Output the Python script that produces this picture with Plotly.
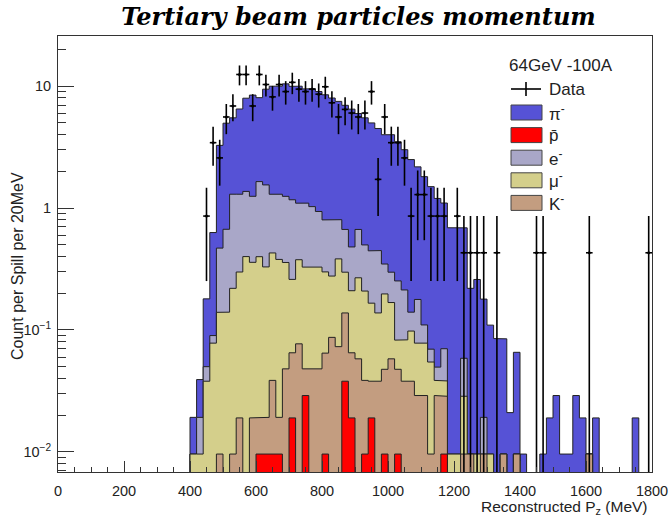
import numpy as np
import plotly.graph_objects as go

# ---------------- data ----------------
bin_width = 20
bin_lo = np.arange(400, 1800, bin_width)          # 70 bins, 400..1780 MeV

# MC components (count per spill per 20 MeV), bins 400..1780
pbar = [0, 0, 0, 0, 0, 0, 0, 0, 0, 0,
        .0096, .0096, .0096, .0096, 0, .019, 0, .029, 0, 0,
        .0096, 0, 0, .038, .019, 0, .0096, .019, 0, .0096,
        0, .0096, 0, 0, 0, 0, 0, 0, .0096, 0,
        0, 0, 0, 0, 0, 0, 0, 0, 0, 0,
        0, 0, 0, 0, 0, 0, 0, 0, 0, 0,
        0, 0, 0, 0, 0, 0, 0, 0, 0, 0]
kaon = [0, 0, 0, 0, .0096, 0, .0096, .019, 0, .019,
        .0096, .0096, .029, .0096, .048, .046, .077, .019, .048, .048,
        .055, .087, .073, .10, .046, .058, .029, .019, .038, .038,
        .058, .038, .038, .038, .029, .029, .0096, .029, .019, 0,
        0, .0096, .0096, 0, .0096, 0, 0, .0096, 0, .0096,
        0, 0, 0, 0, 0, 0, 0, 0, 0, 0,
        .0096, 0, 0, 0, 0, 0, 0, 0, 0, 0]
muon = [.0096, .0096, .038, .078, .13, .14, .21, .28, .40, .34,
        .38, .31, .39, .36, .31, .195, .30, .28, .28, .28,
        .235, .19, .31, .16, .145, .21, .17, .128, .10, .15,
        .11, .035, .045, .06, .049, .049, .045, .0096, .0096, .0096,
        .0096, .019, 0, .0096, 0, .0096, 0, 0, 0, 0,
        0, 0, 0, 0, 0, 0, 0, 0, 0, 0,
        0, 0, 0, 0, 0, 0, 0, 0, 0, 0]
elec = [0, .0096, .012, .012, .33, .53, 1.08, 1.0, .97, .89,
        1.25, 1.22, .87, .92, .89, .91, .72, .77, .70, .61,
        .50, .52, .42, .37, .27, .40, .29, .28, .31, .15,
        .13, .17, .13, .042, .10, .032, .015, .011, .032, 0,
        0, .03, 0, 0, .0096, 0, 0, 0, 0, 0,
        0, 0, 0, 0, 0, 0, 0, 0, 0, 0,
        0, 0, 0, 0, 0, 0, 0, 0, 0, 0]
pion = [.0096, .02, .13, .54, 2.8, 4.3, 4.2, 5.2, 6.6, 7.2,
        6.4, 7.9, 8.7, 8.7, 9.2, 8.8, 8.9, 8.4, 8.5, 8.1,
        7.7, 7.2, 6.7, 6.3, 6.0, 5.3, 5.0, 4.55, 4.05, 3.65,
        3.7, 3.25, 2.8, 2.36, 2.0, 1.7, 1.43, 1.15, 1.03, .68,
        .68, .63, .21, .25, .16, .10, .085, .075, .021, .056,
        .0096, 0, 0, .0096, .019, .029, .0096, .0096, .029, .019,
        0, .019, 0, 0, 0, 0, 0, .019, 0, 0]

# Data: raw event counts per bin, and per-spill scale of one event
data_counts = [0, 0, 2, 8, 6, 13, 16, 29, 29, 16,
               29, 24, 19, 24, 21, 25, 22, 21, 22, 20,
               23, 17, 13, 15, 14, 13, 14, 21, 4, 13,
               8, 8, 6, 2, 3, 3, 2, 2, 2, 0,
               2, 1, 1, 1, 1, 0, 1, 0, 0, 0,
               0, 0, 1, 1, 0, 0, 0, 0, 0, 0,
               1, 0, 0, 0, 0, 0, 0, 0, 0, 1]
data_scale = 0.43

title_text = "Tertiary beam particles momentum"
x_title = "Reconstructed P<sub>z</sub> (MeV)"
y_title = "Count per Spill per 20MeV"
legend_header = "64GeV -100A"
legend_labels = ["π<sup>-</sup>", "p̄", "e<sup>-</sup>", "μ<sup>-</sup>", "K<sup>-</sup>"]
y_tick_vals = [0.01, 0.1, 1, 10]
y_tick_text = ["10<sup>−2</sup>", "10<sup>−1</sup>", "1", "10"]

# ---------------- styles ----------------
col_pi = "#5652D6"
col_pbar = "#FF0000"
col_e = "#A9A7C8"
col_mu = "#D4CF8B"
col_k = "#C39D80"
legend_colors = [col_pi, col_pbar, col_e, col_mu, col_k]
font_sans = "Liberation Sans, Arial, sans-serif"

W, H = 670, 517
ml, mr, mt, mb = 58, 18, 36, 45
pw, ph = W - ml - mr, H - mt - mb

# ---------------- build stack ----------------
c_p = np.array(pbar, float)
c_k = c_p + np.array(kaon, float)
c_mu = c_k + np.array(muon, float)
c_e = c_mu + np.array(elec, float)
c_pi = c_e + np.array(pion, float)

FLOOR = 1e-5


def step_polygon(vals):
    xs, ys = [float(bin_lo[0])], [FLOOR]
    for lo, v in zip(bin_lo, vals):
        vv = v if v > 0 else FLOOR
        xs += [float(lo), float(lo + bin_width)]
        ys += [vv, vv]
    xs.append(float(bin_lo[-1] + bin_width))
    ys.append(FLOOR)
    return xs, ys


fig = go.Figure()
for vals, col in [(c_pi, col_pi), (c_e, col_e), (c_mu, col_mu), (c_k, col_k), (c_p, col_pbar)]:
    xs, ys = step_polygon(vals)
    fig.add_trace(go.Scatter(x=xs, y=ys, mode="lines", fill="toself", fillcolor=col,
                             line=dict(color="#222222", width=1), hoverinfo="skip",
                             showlegend=False))

counts = np.array(data_counts, float)
mask = counts > 0
centers = bin_lo + bin_width / 2
dv = counts * data_scale
de = np.sqrt(counts) * data_scale
de_minus = np.minimum(de, dv * (1 - 1e-6))
fig.add_trace(go.Scatter(
    x=centers[mask], y=dv[mask], mode="markers",
    marker=dict(size=3, color="black"),
    error_y=dict(type="data", array=de[mask], arrayminus=de_minus[mask], symmetric=False,
                 width=0, thickness=1.6, color="black"),
    error_x=dict(type="constant", value=bin_width / 2, width=0, thickness=1.6, color="black"),
    showlegend=False, hoverinfo="skip"))

# minor ticks (log)
y_minor = [m * 10.0 ** e for e in range(-3, 2) for m in range(2, 10)]

fig.update_layout(
    width=W, height=H,
    margin=dict(l=ml, r=mr, t=mt, b=mb, autoexpand=False),
    paper_bgcolor="white", plot_bgcolor="white",
    showlegend=False,
    font=dict(family=font_sans, size=14, color="#222222"),
    title=dict(text="<b><i>" + title_text + "</i></b>", x=0.535, xanchor="center",
               y=1 - 17 / H, yanchor="middle",
               font=dict(family="DejaVu Serif, serif", size=24, color="black")),
    xaxis=dict(range=[0, 1800], showgrid=False, zeroline=False, automargin=False,
               showline=True, linecolor="#333333", linewidth=1, mirror=True,
               ticks="inside", ticklen=11, tickcolor="#333333", dtick=200, tick0=0,
               tickfont=dict(size=14.5, color="#222222"), ticklabelstandoff=6,
               minor=dict(ticks="inside", ticklen=5, dtick=50, tickcolor="#333333")),
    yaxis=dict(type="log", range=[np.log10(0.00684), np.log10(25.8)], showgrid=False,
               zeroline=False, showline=True, linecolor="#333333", linewidth=1, mirror=True,
               automargin=False,
               ticks="inside", ticklen=16, tickcolor="#333333",
               tickvals=y_tick_vals, ticktext=y_tick_text,
               tickfont=dict(size=14.5, color="#222222"), ticklabelstandoff=3,
               minor=dict(ticks="inside", ticklen=8, tickvals=y_minor, tickcolor="#333333")),
)


def px2x(px):
    return (px - ml) / pw


def py2y(py):
    return (mt + ph - py) / ph


ann = []
shapes = []
# axis titles
ann.append(dict(text=x_title, xref="paper", yref="paper", x=px2x(650), y=py2y(507),
                xanchor="right", yanchor="middle", showarrow=False,
                font=dict(size=15.5, color="#222222")))
ann.append(dict(text=y_title, xref="paper", yref="paper", x=px2x(17), y=py2y(266),
                xanchor="center", yanchor="middle", textangle=-90, showarrow=False,
                font=dict(size=16, color="#222222")))

# legend
ann.append(dict(text=legend_header, xref="paper", yref="paper", x=px2x(507), y=py2y(65),
                xanchor="left", yanchor="middle", showarrow=False,
                font=dict(size=17, color="#222222")))
# data entry
shapes.append(dict(type="line", xref="paper", yref="paper", x0=px2x(511), x1=px2x(541),
                   y0=py2y(89), y1=py2y(89), line=dict(color="black", width=1.6)))
shapes.append(dict(type="line", xref="paper", yref="paper", x0=px2x(526), x1=px2x(526),
                   y0=py2y(82), y1=py2y(96), line=dict(color="black", width=1.6)))
ann.append(dict(text="Data", xref="paper", yref="paper", x=px2x(547), y=py2y(89),
                xanchor="left", yanchor="middle", showarrow=False,
                font=dict(size=17, color="#222222")))
for i, (lab, col) in enumerate(zip(legend_labels, legend_colors)):
    yc = 112.5 + 22.6 * i
    shapes.append(dict(type="rect", xref="paper", yref="paper", x0=px2x(511), x1=px2x(542),
                       y0=py2y(yc - 7.5), y1=py2y(yc + 7.5), fillcolor=col,
                       line=dict(color="#444444", width=1)))
    ann.append(dict(text=lab, xref="paper", yref="paper", x=px2x(547), y=py2y(yc),
                    xanchor="left", yanchor="middle", showarrow=False,
                    font=dict(size=17, color="#222222")))

fig.update_layout(annotations=ann, shapes=shapes)
fig.write_html("out.html")
